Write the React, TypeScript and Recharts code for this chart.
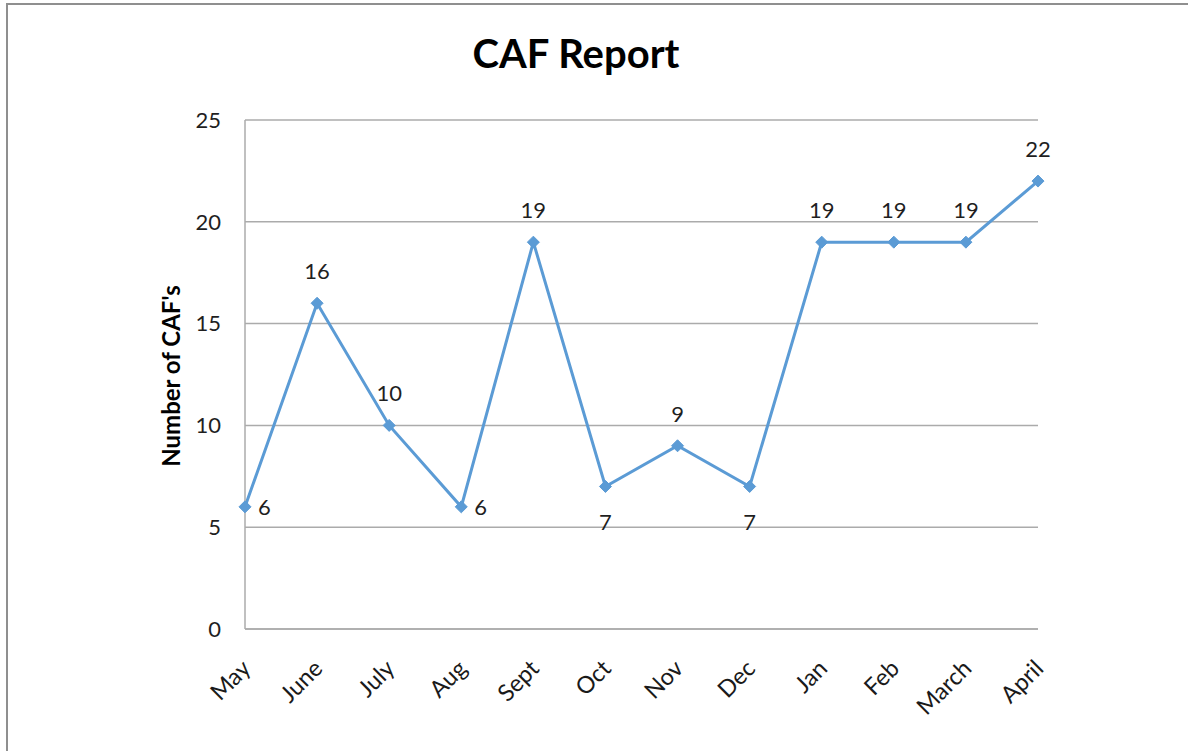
import { LineChart, Line, XAxis, YAxis, CartesianGrid, LabelList } from 'recharts';

const months = ['May', 'June', 'July', 'Aug', 'Sept', 'Oct', 'Nov', 'Dec', 'Jan', 'Feb', 'March', 'April'];
const cafCounts = [6, 16, 10, 6, 19, 7, 9, 7, 19, 19, 19, 22];
const yTicks = [0, 5, 10, 15, 20, 25];
// where each value label sits relative to its point
const labelSide = ['right', 'above', 'above', 'right', 'above', 'below', 'above', 'below', 'above', 'above', 'above', 'above'];

const data = months.map((month, i) => ({ month, count: cafCounts[i] }));

const FONT = 'Lato, "Open Sans", sans-serif';
const LINE_COLOR = '#5B9BD5';
const GRID_COLOR = '#ABABAB';

const Diamond = (props: any) => {
  const { cx, cy } = props;
  if (cx == null || cy == null) return null;
  const r = 6;
  return (
    <path
      d={`M${cx},${cy - r} L${cx + r},${cy} L${cx},${cy + r} L${cx - r},${cy} Z`}
      fill={LINE_COLOR}
      stroke={LINE_COLOR}
    />
  );
};

const MonthTick = (props: any) => {
  const { x, y, payload } = props;
  return (
    <g transform={`translate(${x + 7},${y + 33})`}>
      <text
        transform="rotate(-45)"
        textAnchor="end"
        fontSize={23.5}
        fontFamily={FONT}
        fill="#1a1a1a"
      >
        {payload.value}
      </text>
    </g>
  );
};

const ValueLabel = (props: any) => {
  const { x, y, value, index } = props;
  const side = labelSide[index];
  let tx = x;
  let ty = y - 24;
  let anchor: 'start' | 'middle' = 'middle';
  if (side === 'right') {
    tx = x + 13;
    ty = y + 8;
    anchor = 'start';
  } else if (side === 'below') {
    ty = y + 44;
  }
  return (
    <text x={tx} y={ty} textAnchor={anchor} fontSize={22} fontFamily={FONT} fill="#1f1f1f">
      {value}
    </text>
  );
};

export default function App() {
  return (
    <div
      style={{
        position: 'absolute',
        left: 0,
        top: 0,
        width: 1188,
        height: 751,
        background: '#fff',
        fontFamily: FONT,
      }}
    >
      <div
        style={{
          position: 'absolute',
          left: 6,
          top: 3,
          right: 0,
          bottom: 0,
          borderTop: '2px solid #8f8f8f',
          borderLeft: '2px solid #8f8f8f',
        }}
      />
      <div
        style={{
          position: 'absolute',
          left: 0,
          width: 1152,
          top: 29,
          textAlign: 'center',
          fontSize: 40,
          fontWeight: 700,
          color: '#000',
        }}
      >
        CAF Report
      </div>
      <div
        style={{
          position: 'absolute',
          left: 170,
          top: 376,
          transform: 'translate(-50%, -50%) rotate(-90deg)',
          whiteSpace: 'nowrap',
          fontSize: 24,
          fontWeight: 700,
          color: '#000',
        }}
      >
        Number of CAF's
      </div>
      <div style={{ position: 'absolute', left: 0, top: 0 }}>
        <LineChart
          width={1188}
          height={751}
          data={data}
          margin={{ top: 120, right: 150, bottom: 42, left: 185 }}
        >
          <CartesianGrid vertical={false} stroke={GRID_COLOR} strokeWidth={1.5} />
          <XAxis
            dataKey="month"
            interval={0}
            height={80}
            tickLine={false}
            axisLine={{ stroke: GRID_COLOR, strokeWidth: 1.5 }}
            tick={<MonthTick />}
          />
          <YAxis
            width={60}
            domain={[0, 25]}
            ticks={yTicks}
            interval={0}
            tickLine={false}
            tickSize={0}
            tickMargin={24}
            axisLine={{ stroke: GRID_COLOR, strokeWidth: 1.5 }}
            tick={{ fontSize: 22, fontFamily: FONT, fill: '#1f1f1f' }}
          />
          <Line
            type="linear"
            dataKey="count"
            stroke={LINE_COLOR}
            strokeWidth={3}
            dot={<Diamond />}
            activeDot={false}
            isAnimationActive={false}
          >
            <LabelList dataKey="count" content={<ValueLabel />} />
          </Line>
        </LineChart>
      </div>
    </div>
  );
}
